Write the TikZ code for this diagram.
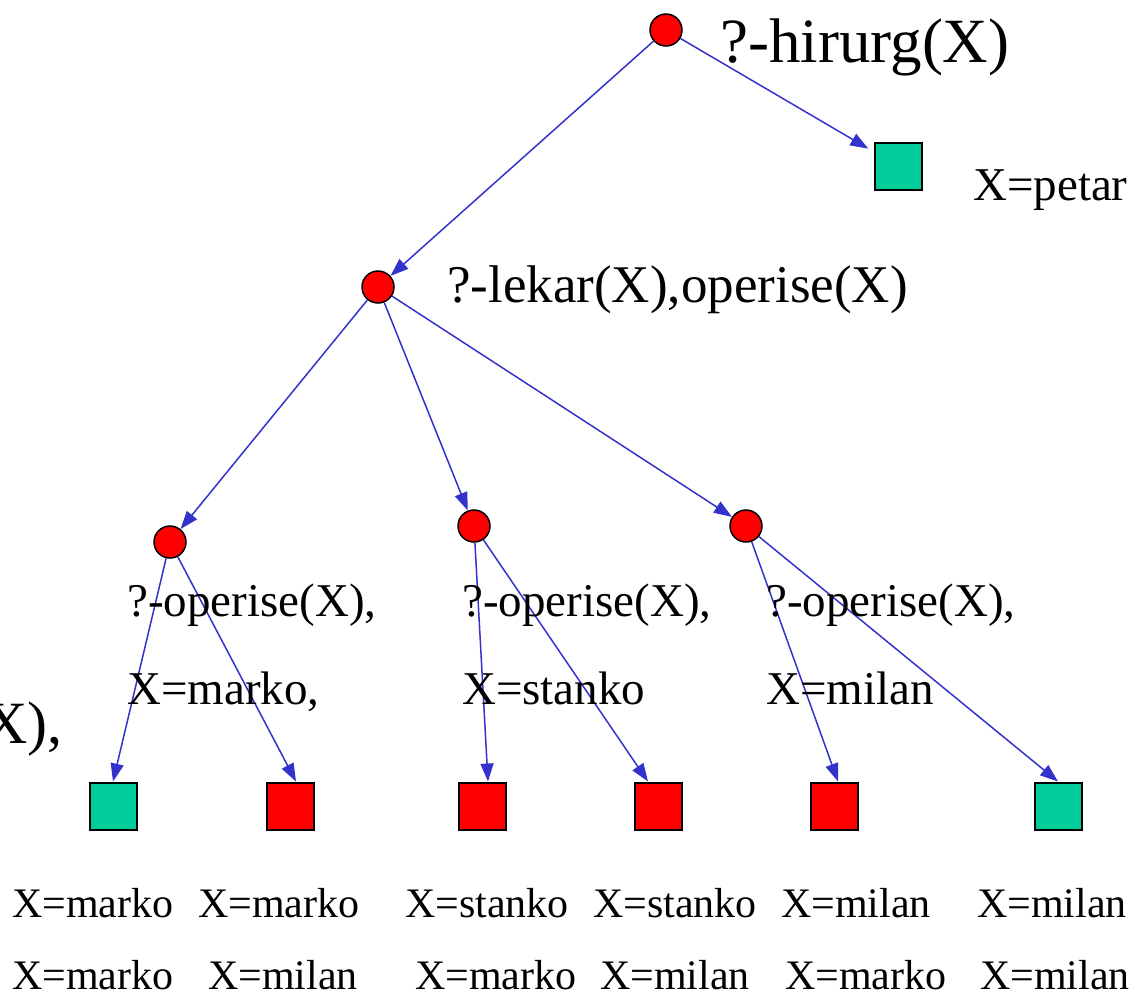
\documentclass[tikz,border=0pt]{standalone}
\usepackage{fontspec}
\setmainfont{Liberation Serif}
\usetikzlibrary{arrows.meta}
\definecolor{arrowblue}{RGB}{51,51,204}
\definecolor{goalred}{RGB}{255,0,0}
\definecolor{okgreen}{RGB}{0,204,153}
\tikzset{
  goal/.style={circle,draw=black,line width=1.5pt,fill=goalred,minimum size=32pt,inner sep=0pt},
  leafok/.style={rectangle,draw=black,line width=2pt,fill=okgreen,minimum size=47pt,inner sep=0pt},
  leafno/.style={rectangle,draw=black,line width=2pt,fill=goalred,minimum size=47pt,inner sep=0pt},
  edge/.style={draw=arrowblue,line width=1.5pt,-{Triangle[length=18pt,width=13pt]}},
  lbl/.style={anchor=base west,inner sep=0pt,font=\fontsize{47}{50}\selectfont},
  lblsmall/.style={anchor=base west,inner sep=0pt,font=\fontsize{42}{45}\selectfont},
}
\begin{document}
\begin{tikzpicture}[x=1pt,y=-1pt]
\useasboundingbox (0,0) rectangle (1139,994);
% goal nodes
\node[goal] (root) at (666,30) {};
\node[goal] (lekar) at (378,287) {};
\node[goal] (g1) at (170,542) {};
\node[goal] (g2) at (474,526) {};
\node[goal] (g3) at (746,526) {};
% leaves
\node[leafok] (petar) at (898,166) {};
\node[leafok] (s1) at (113,806) {};
\node[leafno] (s2) at (290,806) {};
\node[leafno] (s3) at (482,806) {};
\node[leafno] (s4) at (658,806) {};
\node[leafno] (s5) at (834,806) {};
\node[leafok] (s6) at (1058,806) {};
% edges
\draw[edge] (root) -- (lekar);
\draw[edge,shorten >=6pt] (root) -- (petar);
\draw[edge] (lekar) -- (g1);
\draw[edge] (lekar) -- (g2);
\draw[edge] (lekar) -- (g3);
\draw[edge] (g1) -- (s1.north);
\draw[edge] (g1) -- ([xshift=6pt]s2.north);
\draw[edge] (g2) -- ([xshift=6pt]s3.north);
\draw[edge] (g2) -- ([xshift=-10pt]s4.north);
\draw[edge] (g3) -- ([xshift=4pt]s5.north);
\draw[edge] (g3) -- (s6.north);
% labels
\node[lbl,font=\fontsize{63}{66}\selectfont] (troot) at (720,62) {?-hirurg(X)};
\node[lbl] (tpetar) at (973,200) {X=petar};
\node[lbl,font=\fontsize{53}{56}\selectfont] (tlekar) at (447,302) {?-lekar(X),operise(X)};
\node[lbl] (tg1a) at (127,616) {?-operise(X),};
\node[lbl] (tg1b) at (127,704) {X=marko,};
\node[lbl] (tg2a) at (462,616) {?-operise(X),};
\node[lbl] (tg2b) at (462,704) {X=stanko};
\node[lbl] (tg3a) at (766,616) {?-operise(X),};
\node[lbl] (tg3b) at (766,704) {X=milan};
\node[anchor=base east,inner sep=0pt,font=\fontsize{60}{63}\selectfont] (tcut) at (63,743) {X),};
% bottom answers
\node[lblsmall] (a1) at (12,917) {X=marko};
\node[lblsmall] (a2) at (198,917) {X=marko};
\node[lblsmall] (a3) at (405,917) {X=stanko};
\node[lblsmall] (a4) at (593,917) {X=stanko};
\node[lblsmall] (a5) at (781,917) {X=milan};
\node[lblsmall] (a6) at (977,917) {X=milan};
\node[lblsmall] (b1) at (12,989) {X=marko};
\node[lblsmall] (b2) at (208,989) {X=milan};
\node[lblsmall] (b3) at (415,989) {X=marko};
\node[lblsmall] (b4) at (600,989) {X=milan};
\node[lblsmall] (b5) at (785,989) {X=marko};
\node[lblsmall] (b6) at (980,989) {X=milan};
\end{tikzpicture}
\end{document}
